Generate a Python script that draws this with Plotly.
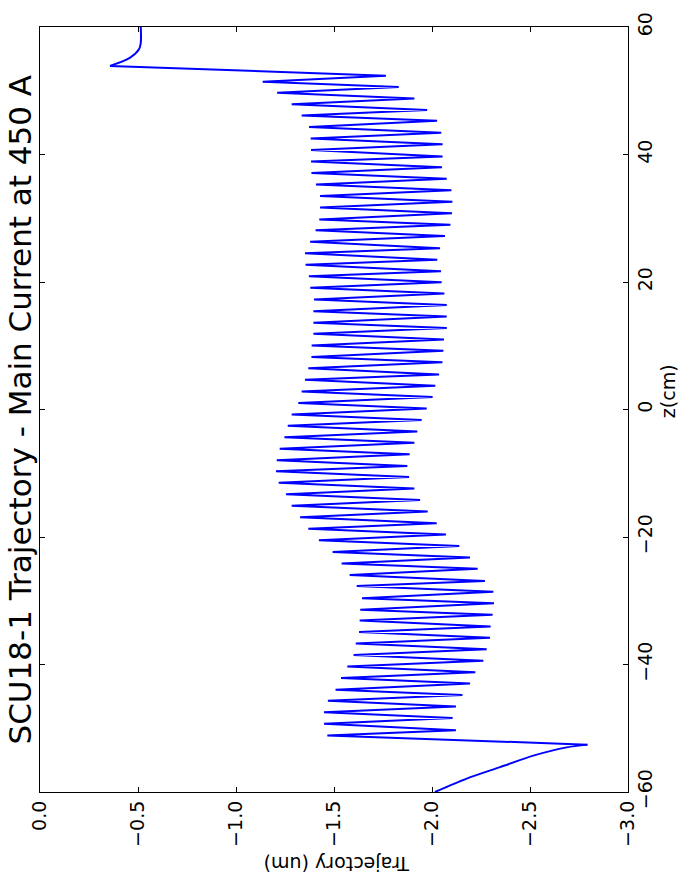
import plotly.graph_objects as go

# ---- data ----
# lead-in (entrance kick), z in cm, trajectory in um
lead_in_z = [-60.0, -57.9, -56.1, -54.3, -53.0, -52.57]
lead_in_um = [-2.015, -2.177, -2.347, -2.517, -2.687, -2.793]

# oscillation extremes: "left" = less negative turning points, "right" = more negative
left_z = [-51.15, -49.3, -47.5, -45.7, -43.95, -42.1, -40.3, -38.5, -36.7, -34.9,
          -33.1, -31.4, -29.6, -27.7, -25.95, -24.15, -22.35, -20.5, -18.7, -16.9,
          -15.1, -13.3, -11.5, -9.7, -7.95, -6.15, -4.36, -2.56, -0.77, 1.03,
          2.82, 4.66, 6.46, 8.25, 10.05, 11.9, 13.6, 15.4, 17.25, 19.1,
          20.9, 22.7, 24.5, 26.3, 28.1, 29.8, 31.7, 33.5, 35.3, 37.1,
          38.9, 40.7, 42.5, 44.3, 46.1, 47.9, 49.7, 51.4]
left_um = [-1.466, -1.449, -1.449, -1.469, -1.508, -1.536, -1.568, -1.600, -1.611, -1.628,
           -1.631, -1.634, -1.643, -1.616, -1.580, -1.539, -1.493, -1.423, -1.369, -1.327,
           -1.284, -1.255, -1.218, -1.204, -1.208, -1.223, -1.247, -1.264, -1.284, -1.318,
           -1.335, -1.352, -1.369, -1.385, -1.386, -1.395, -1.395, -1.395, -1.398, -1.379,
           -1.372, -1.355, -1.352, -1.378, -1.406, -1.425, -1.429, -1.429, -1.408, -1.385,
           -1.383, -1.383, -1.381, -1.373, -1.335, -1.284, -1.210, -1.136]

right_z = [-50.3, -48.4, -46.6, -44.8, -43.0, -41.2, -39.4, -37.6, -35.8, -34.05,
           -32.2, -30.4, -28.6, -26.9, -25.0, -23.2, -21.4, -19.6, -17.85, -16.0,
           -14.2, -12.4, -10.6, -8.85, -7.03, -5.23, -3.44, -1.64, 0.15, 1.95,
           3.74, 5.5, 7.4, 9.2, 11.0, 12.8, 14.6, 16.4, 18.2, 19.95,
           21.7, 23.5, 25.3, 27.2, 29.0, 30.8, 32.6, 34.4, 36.2, 38.0,
           39.7, 41.6, 43.4, 45.3, 47.0, 48.8, 50.6, 52.35]
right_um = [-2.122, -2.105, -2.122, -2.155, -2.194, -2.221, -2.262, -2.279, -2.296, -2.299,
            -2.309, -2.316, -2.313, -2.270, -2.233, -2.194, -2.139, -2.071, -2.024, -1.978,
            -1.939, -1.910, -1.883, -1.874, -1.886, -1.910, -1.925, -1.947, -1.973, -2.003,
            -2.017, -2.036, -2.053, -2.058, -2.061, -2.075, -2.075, -2.075, -2.063, -2.049,
            -2.046, -2.027, -2.041, -2.066, -2.094, -2.102, -2.104, -2.099, -2.075, -2.051,
            -2.054, -2.054, -2.047, -2.026, -1.975, -1.910, -1.830, -1.765]

# lead-out (exit kick)
lead_out_z = [53.9, 55.2, 56.5, 57.5, 60.0]
lead_out_um = [-0.357, -0.460, -0.505, -0.514, -0.514]

x_ticks = [0.0, -0.5, -1.0, -1.5, -2.0, -2.5, -3.0]
z_ticks = [-60, -40, -20, 0, 20, 40, 60]

title_text = "SCU18-1 Trajectory - Main Current at 450 A"
x_label = "Trajectory (um)"
z_label = "z(cm)"

# ---- assemble the path pieces ----
mid_z = [lead_in_z[-1]]
mid_um = [lead_in_um[-1]]
for zl, ul, zr, ur in zip(left_z, left_um, right_z, right_um):
    mid_z += [zl, zr]
    mid_um += [ul, ur]
mid_z.append(lead_out_z[0])
mid_um.append(lead_out_um[0])

FONT = "DejaVu Sans"
LINE = dict(color="#0000ff", width=2)

fig = go.Figure()
fig.add_trace(go.Scatter(x=lead_in_um, y=lead_in_z, mode="lines",
                         line=dict(shape="spline", smoothing=0.8, **LINE),
                         hoverinfo="skip", showlegend=False))
fig.add_trace(go.Scatter(x=mid_um, y=mid_z, mode="lines", line=LINE,
                         hoverinfo="skip", showlegend=False))
fig.add_trace(go.Scatter(x=lead_out_um, y=lead_out_z, mode="lines",
                         line=dict(shape="spline", smoothing=1.0, **LINE),
                         hoverinfo="skip", showlegend=False))

axis_common = dict(showgrid=False, zeroline=False, showline=True, linecolor="black",
                   linewidth=1.3, mirror="allticks", ticks="inside", ticklen=5,
                   tickcolor="black", tickwidth=1, tickangle=-90,
                   ticklabeloverflow="allow",
                   tickfont=dict(family=FONT, size=19, color="black"))

fig.update_layout(
    width=681, height=892,
    margin=dict(l=40, r=53, t=12, b=100),
    paper_bgcolor="white", plot_bgcolor="white",
    xaxis=dict(range=[0, -3], tickvals=x_ticks,
               ticktext=[("%.1f" % v).replace("-", "\u2212") for v in x_ticks],
               **axis_common),
    yaxis=dict(range=[-60.001, 60.001], side="right", tickvals=z_ticks,
               ticktext=[str(v).replace("-", "\u2212") for v in z_ticks],
               **axis_common),
    annotations=[
        dict(text=title_text, xref="paper", yref="paper", x=0, y=0.5,
             xshift=-21, xanchor="center", yanchor="middle", textangle=-90,
             showarrow=False, font=dict(family=FONT, size=31, color="black")),
        dict(text=z_label, xref="paper", yref="paper", x=1, y=0.524,
             xshift=40, xanchor="center", yanchor="middle", textangle=-90,
             showarrow=False, font=dict(family=FONT, size=19, color="black")),
        dict(text=x_label, xref="paper", yref="paper", x=0.505, y=0,
             yshift=-72, xanchor="center", yanchor="middle", textangle=180,
             showarrow=False, font=dict(family=FONT, size=19, color="black")),
    ],
)

fig.write_html("out.html")
